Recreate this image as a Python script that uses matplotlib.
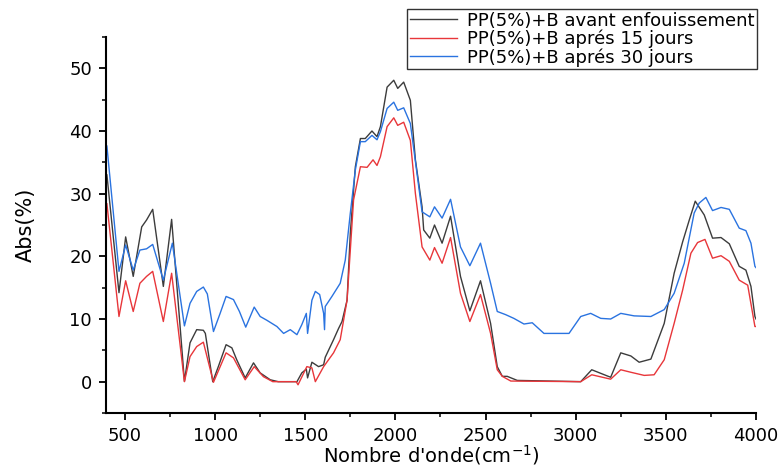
import matplotlib
matplotlib.use("Agg")
import matplotlib.pyplot as plt
from matplotlib.ticker import MultipleLocator

# Wavenumbers (cm-1) and absorbance (%)
x_avant = [400, 467, 504, 546, 593, 620, 654, 713, 759, 830, 861, 898, 935, 946, 987,
           1018, 1061, 1093, 1120, 1167, 1213, 1250, 1306, 1350, 1454, 1481, 1506, 1513,
           1537, 1574, 1602, 1611, 1657, 1685, 1704, 1732, 1750, 1778, 1806, 1833, 1870,
           1898, 1917, 1954, 1991, 2013, 2046, 2083, 2111, 2148, 2157, 2191, 2217, 2259,
           2306, 2361, 2413, 2472, 2528, 2565, 2593, 2620, 2676, 3028, 3089, 3194, 3250,
           3306, 3352, 3417, 3491, 3546, 3593, 3630, 3663, 3713, 3759, 3806, 3852, 3907,
           3944, 3972, 3994, 4000]
y_avant = [33.0, 14.2, 23.1, 16.8, 24.7, 25.8, 27.5, 15.2, 25.9, 0.05, 6.2, 8.3, 8.2, 7.7, 0.0,
           2.4, 5.9, 5.4, 3.5, 0.6, 3.0, 1.4, 0.3, 0.0, 0.0, 1.4, 2.0, 0.6,
           3.1, 2.4, 2.7, 3.9, 6.7, 8.5, 9.6, 13.0, 23.7, 34.3, 38.8, 38.8, 40.0,
           39.1, 40.7, 47.0, 48.1, 46.8, 47.8, 44.9, 35.4, 27.9, 24.2, 22.9, 25.0, 22.1,
           26.4, 16.8, 11.3, 16.1, 9.3, 2.4, 0.85, 0.85, 0.2, 0.0, 1.9, 0.7, 4.6,
           4.1, 3.1, 3.6, 9.3, 17.3, 22.3, 25.8, 28.8, 26.6, 22.9, 23.0, 22.0, 18.4,
           17.8, 15.2, 10.4, 10.0]

x_15 = [400, 467, 504, 546, 583, 620, 654, 713, 759, 830, 861, 898, 935, 991, 1061,
        1102, 1167, 1217, 1268, 1320, 1450, 1460, 1509, 1537, 1556, 1602, 1657, 1694,
        1732, 1768, 1806, 1843, 1876, 1898, 1917, 1954, 1991, 2013, 2046, 2083, 2111,
        2148, 2191, 2217, 2259, 2306, 2361, 2413, 2472, 2528, 2565, 2593, 2640, 3028,
        3089, 3194, 3250, 3306, 3380, 3435, 3491, 3546, 3593, 3639, 3676, 3717, 3759,
        3806, 3852, 3907, 3954, 3994, 4000]
y_15 = [28.4, 10.4, 16.1, 11.2, 15.7, 16.8, 17.6, 9.6, 17.3, 0.0, 4.0, 5.6, 6.3, -0.1, 4.6,
        3.8, 0.3, 2.4, 0.8, 0.0, 0.0, -0.5, 2.4, 2.2, 0.0, 2.4, 4.6, 6.7,
        13.0, 29.0, 34.3, 34.2, 35.4, 34.5, 35.9, 40.7, 42.1, 40.9, 41.4, 38.5, 30.0,
        21.5, 19.4, 21.4, 18.9, 23.0, 14.1, 9.6, 13.9, 7.7, 1.9, 0.85, 0.1, 0.0,
        1.1, 0.4, 1.9, 1.5, 1.0, 1.1, 3.5, 9.3, 14.6, 20.5, 22.2, 22.7, 19.7,
        20.1, 19.2, 16.2, 15.4, 8.8, 8.8]

x_30 = [400, 467, 504, 546, 583, 620, 654, 713, 763, 830, 861, 898, 935, 957, 991,
        1028, 1061, 1102, 1135, 1170, 1217, 1250, 1287, 1343, 1380, 1417, 1454, 1481,
        1506, 1513, 1537, 1556, 1580, 1602, 1607, 1611, 1648, 1694, 1722, 1750, 1778,
        1806, 1833, 1870, 1898, 1917, 1954, 1991, 2013, 2046, 2083, 2120, 2148, 2191,
        2217, 2259, 2306, 2361, 2413, 2472, 2528, 2565, 2611, 2657, 2713, 2759, 2824,
        2963, 3028, 3083, 3139, 3194, 3250, 3324, 3417, 3491, 3546, 3602, 3657, 3685,
        3722, 3759, 3806, 3852, 3907, 3944, 3972, 3994, 4000]
y_30 = [37.6, 17.6, 21.8, 17.8, 21.0, 21.2, 21.9, 16.2, 22.1, 8.9, 12.5, 14.4, 15.1, 14.0, 8.0,
        10.9, 13.6, 13.1, 11.2, 8.7, 11.9, 10.4, 9.8, 8.8, 7.7, 8.3, 7.5, 9.1,
        10.9, 7.7, 13.0, 14.4, 13.9, 10.9, 8.3, 12.0, 13.6, 15.7, 19.4, 26.9, 33.8,
        38.3, 38.3, 39.3, 38.6, 39.9, 43.6, 44.6, 43.3, 43.7, 41.2, 33.2, 27.1, 26.3,
        27.9, 26.1, 29.1, 21.5, 18.5, 22.1, 15.7, 11.2, 10.7, 10.1, 9.2, 9.4, 7.7,
        7.7, 10.4, 10.9, 10.1, 10.0, 10.9, 10.5, 10.4, 11.5, 14.1, 18.9, 26.9, 28.5,
        29.4, 27.3, 27.8, 27.5, 24.5, 24.1, 22.1, 18.4, 18.2]

labels = ["PP(5%)+B avant enfouissement", "PP(5%)+B aprés 15 jours", "PP(5%)+B aprés 30 jours"]
colors = ["#3c3c3c", "#e8363a", "#2a73e0"]

fig = plt.figure(figsize=(7.79, 4.70), dpi=100)
ax = fig.add_axes([106/779, 1-413/470, (756-106)/779, (413-37)/470])

l1, = ax.plot(x_avant, y_avant, color=colors[0], lw=1.0)
l2, = ax.plot(x_15, y_15, color=colors[1], lw=1.0)
l3, = ax.plot(x_30, y_30, color=colors[2], lw=1.0)

ax.set_xlim(395, 4000)
ax.set_ylim(-5, 55)
ax.xaxis.set_major_locator(MultipleLocator(500))
ax.xaxis.set_minor_locator(MultipleLocator(250))
ax.yaxis.set_major_locator(MultipleLocator(10))
ax.yaxis.set_minor_locator(MultipleLocator(5))
for s in ["top", "right"]:
    ax.spines[s].set_visible(False)
for s in ["left", "bottom"]:
    ax.spines[s].set_linewidth(1.5)
ax.tick_params(which="major", direction="out", length=5, width=1.3, labelsize=13, pad=5)
ax.tick_params(which="minor", direction="out", length=3, width=1.1)

ax.set_xlabel("Nombre d'onde(cm$^{-1}$)", fontsize=14, labelpad=-1)
ax.set_ylabel("Abs(%)", fontsize=15, labelpad=24)

fig.legend([l1, l2, l3], labels, loc="upper left", bbox_to_anchor=(407/779, 1-9/470),
           frameon=True, fancybox=False, edgecolor="#333333", framealpha=1,
           fontsize=13, borderpad=0.15, borderaxespad=0, handlelength=2.6,
           handletextpad=0.55, labelspacing=0.0)

fig.savefig("out.png", dpi=100)
